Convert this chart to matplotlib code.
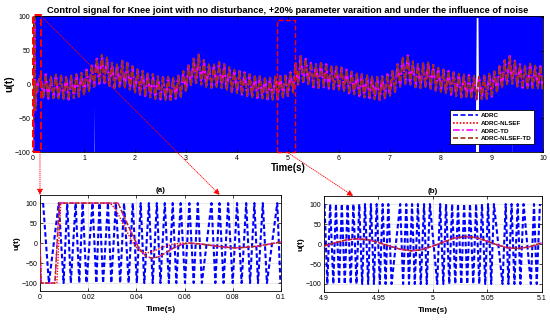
import numpy as np
import matplotlib
matplotlib.use("Agg")
import matplotlib.pyplot as plt
from matplotlib.patches import Rectangle, ConnectionPatch
from matplotlib.lines import Line2D

plt.rcParams['font.family'] = ['Liberation Sans', 'DejaVu Sans']

# ---------------- data ----------------
labels = ["ADRC", "ADRC-NLSEF", "ADRC-TD", "ADRC-NLSEF-TD"]

# ADRC over 0..10 s, sign every 0.02 s (one row = one second)
adrc_top_signs = (
    "+-+-+-+-+-" "+-+-+-+-+-" "+-+-+-+-+-" "+-+-+-+-+-" "+-+-+-+-+-"
    "+-+-+-+-+-" "++-+-+-+-+" "-+-+--+-+-" "+-+-+-+-+-" "+-+-+-+-+-"
    "+-+-+-+-+-" "+-+-+-+-+-" "+-+-+-+-+-" "+-+-+-+-+-" "+-+-+-+-+-"
    "+-+-+-+-+-" "+-+-+-+-+-" "++-+-+-+-+" "-+-+-+-+-+" "-+-+-+-+-+"
    "-+-+-+-+-+" "-+-+-+-+-+" "-+-+-+-+-+" "-+-+-+-+-+" "-+-+-+-+-+"
    "-+-+-+-+-+" "-+-+-+-+-+" "-+-+-+-+-+" "-+-+-+-+-+" "-+-+-+-+-+"
    "-+-+-+-+-+" "-+-+-+-+-+" "-+-+-+-+-+" "-+-+-+-+-+" "-+-+-+-+-+"
    "-+-+-+-+-+" "-+-+-+-+-+" "-+-+-++-+-" "+-+-+-+-+-" "+-+-+-+-+-"
    "+-+-+-+-+-" "+-+-+-+-+-" "+-+-+-+-+-" "+-+-+++++-" "+-+-+-+-+-"
    "+-+-+-+-+-" "+-+-+-+-+-" "++-+-+-+-+" "-+-+-+-+-+" "-+-+-+-+-+"
    "-"
)

# smooth controllers (top panel): peaks every 0.1 s from 0.15, troughs from 0.2
top_peaks = [14, 15, 12, 15, 13, 12, 13, 15, 17,
             22, 28, 38, 44, 40, 32, 30, 35, 32, 27,
             23, 20, 16, 15, 12, 11, 12, 10, 13, 20,
             28, 38, 44, 36, 30, 30, 33, 30, 26, 22,
             20, 18, 15, 14, 12, 11, 10, 12, 14, 13,
             18, 32, 42, 38, 32, 30, 34, 30, 28, 27,
             25, 22, 19, 17, 15, 14, 12, 11, 12, 15,
             20, 30, 40, 43, 34, 30, 31, 33, 29, 25,
             22, 20, 18, 16, 15, 14, 13, 12, 13, 16,
             20, 27, 36, 42, 35, 30, 27, 31, 28, 27]
top_troughs = [-20, -21, -20, -21, -22, -22, -20, -18, -15,
               -10, -3, 1, 2, -2, -5, -4, -5, -8, -12,
               -15, -17, -19, -21, -22, -23, -23, -21, -18, -11,
               -2, 2, 0, -4, -5, -4, -5, -8, -11, -13,
               -15, -17, -19, -20, -21, -22, -23, -22, -20, -17,
               -12, -1, 2, 0, -4, -5, -4, -6, -7, -8,
               -10, -13, -15, -17, -19, -20, -22, -23, -21, -17,
               -11, -3, 1, 0, -4, -5, -4, -6, -9, -11,
               -13, -15, -17, -19, -20, -21, -22, -22, -21, -18,
               -12, -5, 0, 1, -3, -5, -6, -5, -6, -7]

# zoom (a): 0 .. 0.1 s
a_blue_t = [0.0013, 0.0037, 0.0078, 0.0098, 0.0113, 0.0128, 0.0148, 0.0163,
            0.0177, 0.0193, 0.0218, 0.0234, 0.0247, 0.0262, 0.0282, 0.0296,
            0.0315, 0.0333, 0.0349, 0.0368, 0.0385, 0.0402, 0.0418, 0.0433,
            0.0452, 0.0468, 0.0485, 0.0500, 0.0518, 0.0535, 0.0551, 0.0566,
            0.0584, 0.0602, 0.0620, 0.0638, 0.0655, 0.0672, 0.0712, 0.0728,
            0.0745, 0.0762, 0.0781, 0.0800, 0.0818, 0.0837, 0.0856, 0.0872,
            0.0890, 0.0905, 0.0925, 0.0942, 0.0985, 0.0998]
a_blue_signs = "+-+-+-+-+-" "+-+-+-+-+-" "+-+-+-+-+-" "+-+-+-+-+-" "+-+-+-+-+-" "+-+-"

a_td_t = [0, 0.0005, 0.0062, 0.0080, 0.0324, 0.0350, 0.0380, 0.0410, 0.0440,
          0.0465, 0.0490, 0.0520, 0.0555, 0.0590, 0.0620, 0.0660, 0.0700,
          0.0750, 0.0800, 0.0850, 0.0900, 0.0950, 0.1000]
a_td_u = [0, -100, -100, 100, 100, 65, 25, -12, -33,
          -38, -35, -25, -12, -3, 0, -2, -5,
          -9, -12, -11, -8, -3, 3]
a_nlsef_t = [0, 0.0005, 0.0070, 0.0086, 0.0290, 0.0310, 0.0330, 0.0350,
             0.0370, 0.0390, 0.0410, 0.0430, 0.0450, 0.0480, 0.0510,
             0.0550, 0.0590, 0.0620, 0.0660, 0.0700, 0.0750, 0.0800,
             0.0850, 0.0900, 0.0950, 0.1000]
a_nlsef_u = [0, -100, -100, 100, 100, 88, 66, 42,
             18, -3, -18, -24, -24, -18, -10,
             -3, 0, 0, -2, -5, -9, -12,
             -11, -8, -3, 3]

# zoom (b): 4.9 .. 5.1 s
b_blue_t = [4.9005, 4.9031, 4.9057, 4.9086, 4.9110, 4.9139, 4.9164, 4.9191,
            4.9217, 4.9246, 4.9270, 4.9299, 4.9324, 4.9351, 4.9377, 4.9406,
            4.9431, 4.9459, 4.9484, 4.9513, 4.9539, 4.9566, 4.9591, 4.9621,
            4.9700, 4.9727, 4.9756, 4.9781, 4.9809, 4.9834, 4.9863, 4.9889,
            4.9919, 4.9944, 4.9973, 5.0040, 5.0067, 5.0096, 5.0121, 5.0151,
            5.0177, 5.0206, 5.0231, 5.0261, 5.0287, 5.0316, 5.0341, 5.0371,
            5.0397, 5.0426, 5.0451, 5.0481, 5.0507, 5.0536, 5.0561, 5.0640,
            5.0669, 5.0694, 5.0723, 5.0749, 5.0779, 5.0804, 5.0833, 5.0900,
            5.0929, 5.0954, 5.0983]
b_blue_signs = ("+-+-+-+-+-" "+-+-+-+-+-" "+-+-+-+-+-" "+-+-+-+-+-"
                "+-+-+-+-+-" "+-+-+-+-+-" "+-+-+-+")
b_t = [4.90, 4.91, 4.92, 4.93, 4.94, 4.95, 4.96, 4.97, 4.98, 4.99, 5.00,
       5.01, 5.02, 5.03, 5.04, 5.05, 5.06, 5.07, 5.08, 5.09, 5.10]
b_u = [-5, 3, 10, 13, 11, 4, -5, -13, -17, -14, -5,
       5, 15, 19, 16, 7, -3, -10, -11, -6, 3]

# ---------------- styles ----------------
c_blue, c_red, c_mag, c_brown = "#0000ff", "#ff0000", "#ff00ff", "#9a3510"
st_blue = dict(color=c_blue, ls=(0, (3, 1.5)))
st_red = dict(color=c_red, ls=(0, (1, 1)))
st_mag = dict(color=c_mag, ls=(0, (4, 1.5, 1, 1.5)))
st_brown = dict(color=c_brown, ls=(0, (3, 1.5)))


def zigzag(times, signs):
    n = min(len(times), len(signs))
    return np.array(times[:n]), np.array([100 if c == "+" else -100 for c in signs[:n]])


def style_axes(ax, fs=5):
    ax.tick_params(direction="in", length=2, width=0.5, labelsize=fs,
                   top=True, right=True, pad=2)
    for s in ax.spines.values():
        s.set_linewidth(0.6)


fig = plt.figure(figsize=(5.5, 3.23), dpi=100)

# ---------------- top panel ----------------
ax = fig.add_axes([0.060, 0.529, 0.927, 0.421])
x_top = np.arange(len(adrc_top_signs)) * 0.02
u_top = [100 if c == "+" else -100 for c in adrc_top_signs]
ax.plot(x_top, u_top, color=c_blue, lw=1.7, zorder=1)

t_ext = 0.15 + 0.05 * np.arange(2 * len(top_peaks))
u_ext = np.empty(2 * len(top_peaks))
u_ext[0::2] = top_peaks
u_ext[1::2] = top_troughs
t_curve = np.concatenate([a_td_t, t_ext])
u_curve = np.concatenate([a_td_u, u_ext])
ax.plot(t_curve, u_curve, lw=1.0, zorder=2, **st_red)
ax.plot(t_curve, u_curve, lw=1.6, zorder=3, **st_mag)
ax.plot(t_curve, u_curve, lw=1.3, zorder=4, **st_brown)

ax.set_xlim(0, 10)
ax.set_ylim(-100, 101)
ax.set_xticks(range(11))
ax.set_yticks([-100, -50, 0, 50, 100])
style_axes(ax)
ax.set_title("Control signal for Knee joint with no disturbance, +20% parameter "
             "varaition and under the influence of noise",
             fontsize=6.7, fontweight="bold", pad=2)
ax.set_xlabel("Time(s)", fontsize=7, fontweight="bold", labelpad=1)
ax.set_ylabel("u(t)", fontsize=7.5, fontweight="bold", labelpad=0)

handles = [Line2D([], [], lw=1.2, **st) for st in (st_blue, st_red, st_mag, st_brown)]
leg = ax.legend(handles, labels, loc="lower right", bbox_to_anchor=(0.989, 0.035),
                prop=dict(size=4.5, weight="bold"), handlelength=4.0,
                handletextpad=0.4, labelspacing=0.38, borderpad=0.45,
                fancybox=False, framealpha=1, edgecolor="black")
leg.get_frame().set_linewidth(0.6)

ax.add_patch(Rectangle((0.0, -100), 0.16, 202, fill=False, ec="red", ls="--",
                       lw=1.4, clip_on=False, zorder=5))
ax.add_patch(Rectangle((4.78, -100), 0.36, 196, fill=False, ec="red", ls="--",
                       lw=1.0, clip_on=False, zorder=5))

# ---------------- zoom (a) ----------------
axa = fig.add_axes([0.0727, 0.099, 0.438, 0.297])
xa, ya = zigzag(a_blue_t, a_blue_signs)
axa.plot(xa, ya, color=c_blue, ls=(0, (2.2, 1.3)), lw=1.5, zorder=2)
axa.plot(a_nlsef_t, a_nlsef_u, color=c_red, ls=(0, (1, 1)), lw=1.0, zorder=3)
axa.plot(a_td_t, a_td_u, color=c_mag, ls=(0, (4, 1.5, 1, 1.5)), lw=1.0, zorder=4)
axa.plot(a_td_t, a_td_u, color=c_brown, ls=(0, (3, 1.5)), lw=1.0, zorder=5)
axa.set_xlim(0, 0.1)
axa.set_ylim(-120, 120)
axa.set_xticks([0, 0.02, 0.04, 0.06, 0.08, 0.1])
axa.set_xticklabels(["0", "0.02", "0.04", "0.06", "0.08", "0.1"])
axa.set_yticks([-100, -50, 0, 50, 100])
axa.grid(True, color="#e0e0e0", lw=0.5)
style_axes(axa)
axa.set_title("(a)", fontsize=5.8, fontweight="bold", pad=2)
axa.set_xlabel("Time(s)", fontsize=6, fontweight="bold", labelpad=4)
axa.set_ylabel("u(t)", fontsize=6, fontweight="bold", labelpad=1)

# ---------------- zoom (b) ----------------
axb = fig.add_axes([0.589, 0.096, 0.396, 0.297])
xb, yb = zigzag(b_blue_t, b_blue_signs)
axb.plot(xb, yb, color=c_blue, ls=(0, (2.2, 1.3)), lw=1.5, zorder=2)
axb.plot(b_t, b_u, color=c_red, ls=(0, (1, 1)), lw=1.0, zorder=3)
axb.plot(b_t, b_u, color=c_mag, ls=(0, (4, 1.5, 1, 1.5)), lw=1.0, zorder=4)
axb.plot(b_t, b_u, color=c_brown, ls=(0, (3, 1.5)), lw=1.0, zorder=5)
axb.set_xlim(4.9, 5.1)
axb.set_ylim(-120, 120)
axb.set_xticks([4.9, 4.95, 5.0, 5.05, 5.1])
axb.set_xticklabels(["4.9", "4.95", "5", "5.05", "5.1"])
axb.set_yticks([-100, -50, 0, 50, 100])
axb.grid(True, color="#e0e0e0", lw=0.5)
style_axes(axb)
axb.set_title("(b)", fontsize=5.8, fontweight="bold", pad=2)
axb.set_xlabel("Time(s)", fontsize=6, fontweight="bold", labelpad=4)
axb.set_ylabel("u(t)", fontsize=6, fontweight="bold", labelpad=1)

# ---------------- zoom arrows ----------------
arrow_kw = dict(arrowstyle="-|>", color="red", lw=0.6, ls=(0, (1, 1.5)),
                mutation_scale=9, zorder=6)
for xyA, xyB, axB in [((0.137, -100), (0.0, 120), axa),
                      ((0.16, 101), (0.0747, 120), axa),
                      ((4.98, -100), (4.927, 120), axb)]:
    con = ConnectionPatch(xyA=xyA, coordsA=ax.transData, xyB=xyB,
                          coordsB=axB.transData, **arrow_kw)
    fig.add_artist(con)

fig.savefig("out.png", dpi=100)
